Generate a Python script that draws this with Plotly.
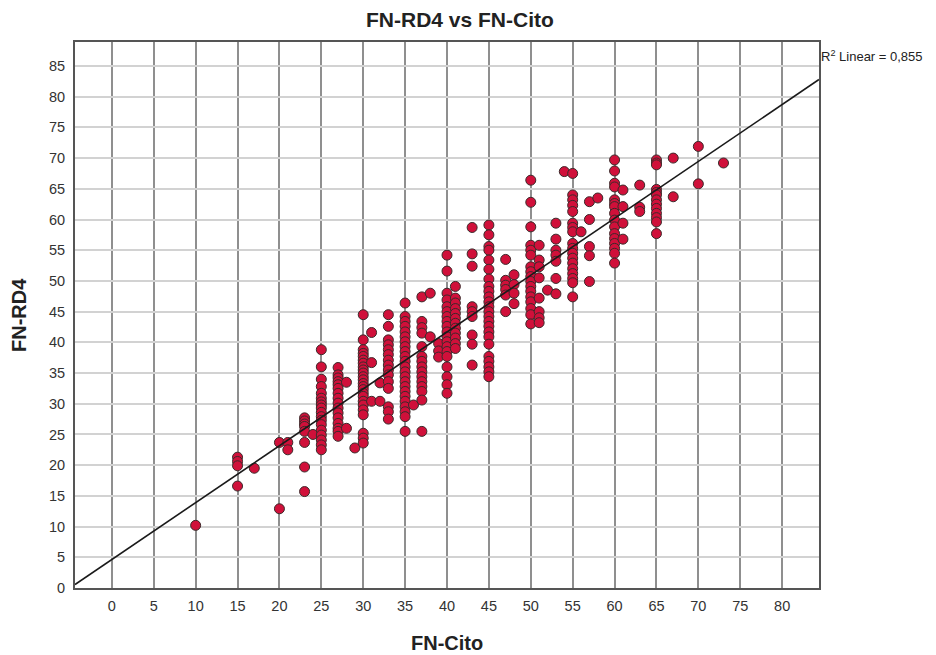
import numpy as np
import plotly.graph_objects as go

# FN-RD4 values, grouped by their FN-Cito value
rd4_c10 = [10.2]
rd4_c15 = [21.3, 20.6, 19.9, 16.6]
rd4_c17 = [19.5]
rd4_c20 = [23.7, 12.9]
rd4_c21 = [23.7, 22.5]
rd4_c23 = [27.7, 27.2, 26.7, 26.3, 25.5, 23.7, 19.7, 15.7]
rd4_c24 = [25.0]
rd4_c25 = [38.8, 36.0, 34.0, 32.8, 31.7, 30.9, 30.3, 29.8, 29.3, 28.6, 27.9, 27.3, 26.6, 25.7, 24.9, 24.1, 23.3, 22.5]
rd4_c27 = [35.9, 34.7, 34.2, 33.6, 33.1, 32.5, 31.7, 30.9, 30.1, 29.3, 28.5, 27.7, 26.8, 26.0, 25.5, 24.7]
rd4_c28 = [33.5, 26.0]
rd4_c29 = [22.8]
rd4_c30 = [44.5, 40.4, 38.8, 38.2, 37.7, 37.1, 36.6, 36.0, 35.5, 35.0, 34.4, 33.9, 33.3, 32.8, 32.3, 31.7, 31.2, 30.4, 29.8, 29.0, 28.2, 25.2, 24.4, 23.6]
rd4_c31 = [41.6, 36.7, 30.4]
rd4_c32 = [33.4, 30.4]
rd4_c33 = [44.5, 42.6, 40.4, 39.6, 38.8, 38.0, 37.1, 36.3, 35.5, 34.7, 33.6, 32.5, 29.5, 28.7, 27.5]
rd4_c35 = [46.4, 44.2, 43.4, 42.6, 41.7, 40.9, 40.1, 39.3, 38.5, 37.7, 36.9, 36.0, 35.2, 34.4, 33.6, 32.8, 32.0, 31.2, 30.4, 29.5, 28.7, 27.9, 25.5]
rd4_c36 = [29.8]
rd4_c37 = [47.4, 43.4, 42.4, 41.5, 39.3, 37.7, 36.9, 36.0, 35.2, 34.4, 33.6, 32.8, 32.0, 30.6, 25.5]
rd4_c38 = [48.0, 40.9]
rd4_c39 = [39.8, 38.6, 37.6]
rd4_c40 = [54.2, 51.6, 48.0, 46.9, 45.8, 45.0, 44.2, 43.4, 42.6, 41.7, 40.9, 40.1, 39.3, 38.5, 37.7, 36.0, 34.4, 33.1, 31.7]
rd4_c41 = [49.1, 47.2, 46.4, 45.5, 44.7, 43.9, 43.1, 42.3, 41.5, 40.7, 39.8, 39.0]
rd4_c43 = [58.7, 54.4, 52.4, 45.8, 45.0, 44.2, 41.2, 39.7, 36.3]
rd4_c45 = [59.1, 57.5, 55.6, 55.0, 53.4, 51.9, 50.3, 49.1, 48.3, 47.4, 46.6, 45.8, 45.0, 44.2, 43.4, 42.6, 41.7, 40.9, 39.7, 37.7, 36.9, 36.0, 35.2, 34.4]
rd4_c47 = [53.5, 50.1, 49.3, 48.6, 47.7, 45.0]
rd4_c48 = [51.0, 49.4, 48.0, 46.3]
rd4_c50 = [66.4, 62.8, 58.8, 55.8, 55.0, 54.2, 52.3, 51.5, 50.7, 49.9, 49.1, 48.3, 47.4, 46.6, 45.5, 44.5, 43.0]
rd4_c51 = [55.8, 53.4, 52.3, 50.5, 47.2, 45.0, 44.0, 43.2]
rd4_c52 = [48.5]
rd4_c53 = [59.4, 56.8, 55.0, 54.2, 53.2, 50.4, 47.9]
rd4_c54 = [67.8]
rd4_c55 = [67.5, 64.0, 63.2, 62.3, 61.3, 59.4, 58.7, 58.0, 56.1, 55.3, 54.5, 53.7, 52.9, 52.0, 51.2, 50.4, 49.7, 47.4]
rd4_c56 = [58.0]
rd4_c57 = [62.9, 60.0, 55.6, 54.1, 49.9]
rd4_c58 = [63.5]
rd4_c60 = [69.7, 67.9, 65.9, 65.3, 63.2, 62.6, 62.1, 61.0, 59.9, 58.8, 57.7, 56.9, 56.1, 55.3, 54.5, 52.9]
rd4_c61 = [64.8, 62.1, 59.4, 56.8]
rd4_c63 = [65.6, 62.0, 61.3]
rd4_c65 = [69.7, 69.2, 68.9, 64.9, 64.4, 64.0, 63.2, 62.5, 61.8, 61.0, 60.3, 59.6, 57.7]
rd4_c67 = [70.0, 63.7]
rd4_c70 = [71.9, 65.8]
rd4_c73 = [69.2]

cito_groups = [
    (10, rd4_c10), (15, rd4_c15), (17, rd4_c17), (20, rd4_c20), (21, rd4_c21),
    (23, rd4_c23), (24, rd4_c24), (25, rd4_c25), (27, rd4_c27), (28, rd4_c28),
    (29, rd4_c29), (30, rd4_c30), (31, rd4_c31), (32, rd4_c32), (33, rd4_c33),
    (35, rd4_c35), (36, rd4_c36), (37, rd4_c37), (38, rd4_c38), (39, rd4_c39),
    (40, rd4_c40), (41, rd4_c41), (43, rd4_c43), (45, rd4_c45), (47, rd4_c47),
    (48, rd4_c48), (50, rd4_c50), (51, rd4_c51), (52, rd4_c52), (53, rd4_c53),
    (54, rd4_c54), (55, rd4_c55), (56, rd4_c56), (57, rd4_c57), (58, rd4_c58),
    (60, rd4_c60), (61, rd4_c61), (63, rd4_c63), (65, rd4_c65), (67, rd4_c67),
    (70, rd4_c70), (73, rd4_c73),
]

fn_cito = []
fn_rd4 = []
for c, ys in cito_groups:
    for v in ys:
        fn_cito.append(c)
        fn_rd4.append(v)

x_tick_vals = list(range(0, 85, 5))
y_tick_vals = list(range(0, 90, 5))
r2_label = "R<sup>2</sup> Linear = 0,855"

x_range = [-4.4, 84.4]
y_range = [0, 88.9]

# Least-squares fit line computed from the data
slope, intercept = np.polyfit(np.array(fn_cito, float), np.array(fn_rd4, float), 1)
fit_x = np.array(x_range)
fit_y = intercept + slope * fit_x

FONT = "Liberation Sans, Arial, sans-serif"

# page body has an 8px default margin; compensate so the plot lands where the reference has it
PLOT_L, PLOT_T, PLOT_W, PLOT_H = 67, 34, 744, 546

fig = go.Figure()
fig.add_trace(go.Scatter(
    x=fn_cito, y=fn_rd4, mode="markers",
    marker=dict(size=10, color="#D0103A", line=dict(color="#3a2a2a", width=1)),
    showlegend=False, hoverinfo="x+y", cliponaxis=True,
))
fig.add_trace(go.Scatter(
    x=fit_x, y=fit_y, mode="lines",
    line=dict(color="#1a1a1a", width=1.6),
    showlegend=False, hoverinfo="skip",
))


def px_x(fig_x):
    return (fig_x - 8 - PLOT_L) / PLOT_W


def px_y(fig_y):
    return 1 - (fig_y - 8 - PLOT_T) / PLOT_H


fig.update_layout(
    width=936, height=655,
    margin=dict(l=PLOT_L, r=936 - PLOT_L - PLOT_W, t=PLOT_T, b=655 - PLOT_T - PLOT_H),
    paper_bgcolor="white", plot_bgcolor="white",
    font=dict(family=FONT, size=14, color="#333333"),
    xaxis=dict(
        range=x_range, tickvals=x_tick_vals, ticks="", showgrid=True,
        gridcolor="#8f8f8f", gridwidth=1.6, zeroline=False,
        showline=True, linecolor="#555555", linewidth=2, mirror=True,
        tickfont=dict(size=14.5, color="#333333"), ticklabelstandoff=4,
    ),
    yaxis=dict(
        range=y_range, tickvals=y_tick_vals, ticks="", showgrid=True,
        gridcolor="#d2d2d2", gridwidth=2, zeroline=False,
        showline=True, linecolor="#555555", linewidth=2, mirror=True,
        tickfont=dict(size=14.5, color="#333333"), ticklabelstandoff=5,
    ),
    annotations=[
        dict(text="<b>FN-RD4 vs FN-Cito</b>", x=px_x(459.5), y=px_y(20),
             xref="paper", yref="paper", xanchor="center", yanchor="middle",
             showarrow=False, font=dict(size=21, color="#222222", family=FONT)),
        dict(text="<b>FN-Cito</b>", x=px_x(447), y=px_y(643),
             xref="paper", yref="paper", xanchor="center", yanchor="middle",
             showarrow=False, font=dict(size=20, color="#222222", family=FONT)),
        dict(text="<b>FN-RD4</b>", x=px_x(19), y=px_y(315), textangle=-90,
             xref="paper", yref="paper", xanchor="center", yanchor="middle",
             showarrow=False, font=dict(size=20, color="#222222", family=FONT)),
        dict(text=r2_label, x=px_x(819), y=px_y(56),
             xref="paper", yref="paper", xanchor="left", yanchor="middle",
             showarrow=False, font=dict(size=13, color="#222222", family=FONT)),
    ],
)

fig.write_html("out.html")
